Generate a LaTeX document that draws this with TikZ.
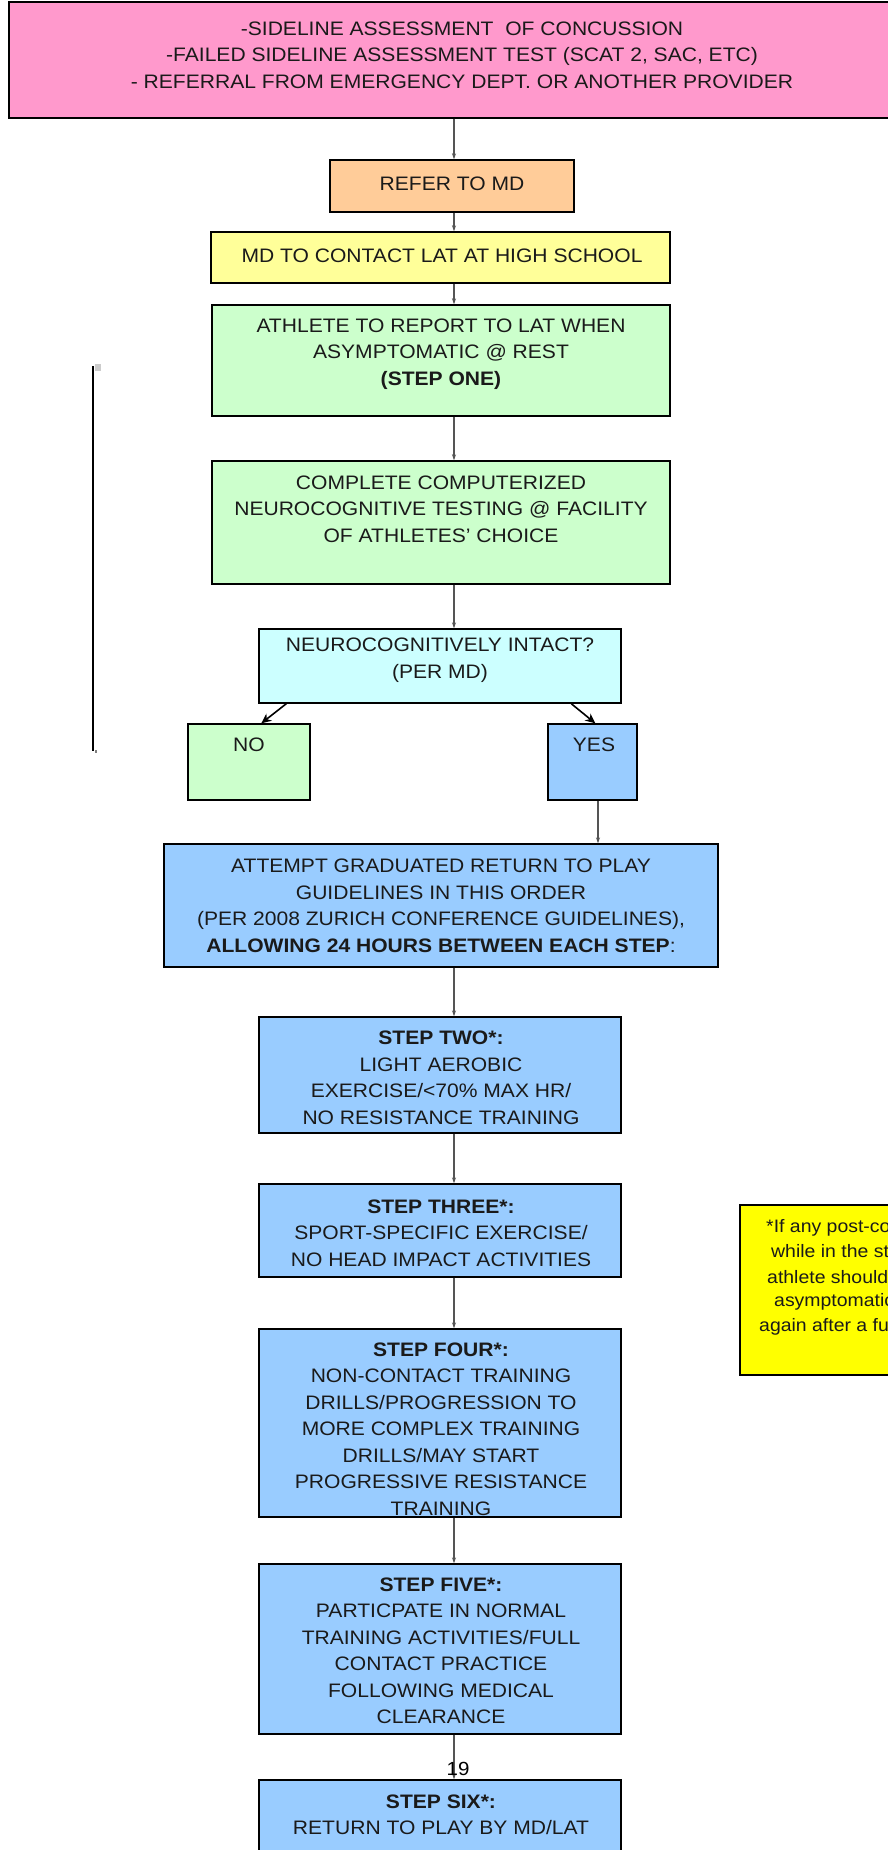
\documentclass[tikz,border=0pt]{standalone}
\usepackage{fontspec}
\setmainfont[FakeStretch=1.08]{Liberation Sans}
\usetikzlibrary{arrows.meta,calc}
\definecolor{pinkc}{HTML}{FF99CC}
\definecolor{orangec}{HTML}{FFCC99}
\definecolor{paleyel}{HTML}{FFFF99}
\definecolor{greenc}{HTML}{CCFFCC}
\definecolor{cyanc}{HTML}{CCFFFF}
\definecolor{bluec}{HTML}{99CCFF}
\definecolor{notec}{HTML}{FFFF00}
\definecolor{textc}{HTML}{1A1A1A}
\definecolor{connc}{HTML}{555555}
\begin{document}
\begin{tikzpicture}[x=1pt,y=-1pt,
  box/.style={draw=black, line width=1.4pt, inner sep=0pt, rectangle},
  txt/.style={align=center, text=textc, inner sep=0pt, font=\fontsize{19.5}{26.5}\selectfont},
  notetxt/.style={anchor=west, text=textc, inner sep=0pt, font=\fontsize{18}{24.5}\selectfont},
  conn/.style={draw=connc, line width=1.2pt, -{Stealth[length=6pt,width=4pt,fill=black!80]}},
  diag/.style={draw=black, line width=1.6pt, -{Stealth[length=10pt,width=9pt]}}]
\useasboundingbox (0,0) rectangle (888,1850);
\fill[white] (0,0) rectangle (888,1850);
\coordinate (cx) at (454,0);
\coordinate (cy) at (598,0);
% boxes
\node[box, fill=pinkc, minimum width=906pt, minimum height=116pt] (pink) at (462,60) {};
\node[box, fill=orangec, minimum width=244pt, minimum height=52pt] (refer) at (452,186) {};
\node[box, fill=paleyel, minimum width=459pt, minimum height=51pt] (mdc) at (440.5,257.5) {};
\node[box, fill=greenc, minimum width=458pt, minimum height=111pt] (athlete) at (441,360.5) {};
\node[box, fill=greenc, minimum width=458pt, minimum height=123pt] (complete) at (441,522.5) {};
\node[box, fill=cyanc, minimum width=362pt, minimum height=74pt] (neuro) at (440,666) {};
\node[box, fill=greenc, minimum width=122pt, minimum height=76pt] (no) at (249,762) {};
\node[box, fill=bluec, minimum width=89pt, minimum height=76pt] (yes) at (592.5,762) {};
\node[box, fill=bluec, minimum width=554pt, minimum height=123pt] (attempt) at (441,905.5) {};
\node[box, fill=bluec, minimum width=362pt, minimum height=116pt] (s2) at (440,1075) {};
\node[box, fill=bluec, minimum width=362pt, minimum height=93pt] (s3) at (440,1230.5) {};
\node[box, fill=bluec, minimum width=362pt, minimum height=188pt] (s4) at (440,1423) {};
\node[box, fill=bluec, minimum width=362pt, minimum height=170pt] (s5) at (440,1649) {};
\node[box, fill=bluec, minimum width=362pt, minimum height=90pt] (s6) at (440,1825) {};
\node[box, fill=notec, minimum width=220pt, minimum height=170pt] (note) at (850,1290) {};
% texts
\node[txt] (tpink) at (462,55) {-SIDELINE ASSESSMENT\ \ OF CONCUSSION\\-FAILED SIDELINE ASSESSMENT TEST (SCAT 2, SAC, ETC)\\- REFERRAL FROM EMERGENCY DEPT. OR ANOTHER PROVIDER};
\node[txt] (trefer) at (452,184) {REFER TO MD};
\node[txt] (tmdc) at (442,256) {MD TO CONTACT LAT AT HIGH SCHOOL};
\node[txt] (tathlete) at (441,354) {ATHLETE TO REPORT TO LAT WHEN\\ASYMPTOMATIC @ REST\\\textbf{(STEP ONE)}};
\node[txt] (tcomplete) at (441,509) {COMPLETE COMPUTERIZED\\NEUROCOGNITIVE TESTING @ FACILITY\\OF ATHLETES’ CHOICE};
\node[txt] (tneuro) at (440,660) {NEUROCOGNITIVELY INTACT?\\(PER MD)};
\node[txt] (tno) at (249,745) {NO};
\node[txt] (tyes) at (594,745) {YES};
\node[txt] (tattempt) at (441,906) {ATTEMPT GRADUATED RETURN TO PLAY\\GUIDELINES IN THIS ORDER\\(PER 2008 ZURICH CONFERENCE GUIDELINES),\\\textbf{ALLOWING 24 HOURS BETWEEN EACH STEP}:};
\node[txt] (ts2) at (441,1078) {\textbf{STEP TWO*:}\\LIGHT AEROBIC\\EXERCISE/<70\% MAX HR/\\NO RESISTANCE TRAINING};
\node[txt] (ts3) at (441,1233) {\textbf{STEP THREE*:}\\SPORT-SPECIFIC EXERCISE/\\NO HEAD IMPACT ACTIVITIES};
\node[txt] (ts4) at (441,1429) {\textbf{STEP FOUR*:}\\NON-CONTACT TRAINING\\DRILLS/PROGRESSION TO\\MORE COMPLEX TRAINING\\DRILLS/MAY START\\PROGRESSIVE RESISTANCE\\TRAINING};
\node[txt] (ts5) at (441,1651) {\textbf{STEP FIVE*:}\\PARTICPATE IN NORMAL\\TRAINING ACTIVITIES/FULL\\CONTACT PRACTICE\\FOLLOWING MEDICAL\\CLEARANCE};
\node[txt] (ts6) at (441,1815) {\textbf{STEP SIX*:}\\RETURN TO PLAY BY MD/LAT};
\node[notetxt] (n1) at (766,1228) {*If any post-concussion};
\node[notetxt] (n2) at (771,1253) {while in the stepwise};
\node[notetxt] (n3) at (767,1277) {athlete should};
\node[notetxt] (n4) at (774,1302) {asymptomatic};
\node[notetxt] (n5) at (759,1327) {again after a further};
% connectors
\draw[conn] (pink.south -| cx) -- (refer.north -| cx);
\draw[conn] (refer.south -| cx) -- (mdc.north -| cx);
\draw[conn] (mdc.south -| cx) -- (athlete.north -| cx);
\draw[conn] (athlete.south -| cx) -- (complete.north -| cx);
\draw[conn] (complete.south -| cx) -- (neuro.north -| cx);
\draw[diag] ($(neuro.south west)+(28,0)$) -- ($(no.north west)+(74,0)$);
\draw[diag] ($(neuro.south west)+(313,0)$) -- ($(yes.north west)+(48,0)$);
\draw[conn] (yes.south -| cy) -- (attempt.north -| cy);
\draw[conn] (attempt.south -| cx) -- (s2.north -| cx);
\draw[conn] (s2.south -| cx) -- (s3.north -| cx);
\draw[conn] (s3.south -| cx) -- (s4.north -| cx);
\draw[conn] (s4.south -| cx) -- (s5.north -| cx);
\draw[conn] (s5.south -| cx) -- (s6.north -| cx);
% page number
\node[inner sep=0pt, font=\fontsize{19}{22}\selectfont] (pnum) at (458,1769) {19};
% left vertical line and marks
\coordinate (vl1) at (93,366);
\coordinate (vl2) at (93,751);
\draw[line width=2pt] (vl1) -- (vl2);
\fill[black!20] (95,364) rectangle (101,371);
\fill[black!50] (95,750) rectangle (97,753);
\end{tikzpicture}
\end{document}
